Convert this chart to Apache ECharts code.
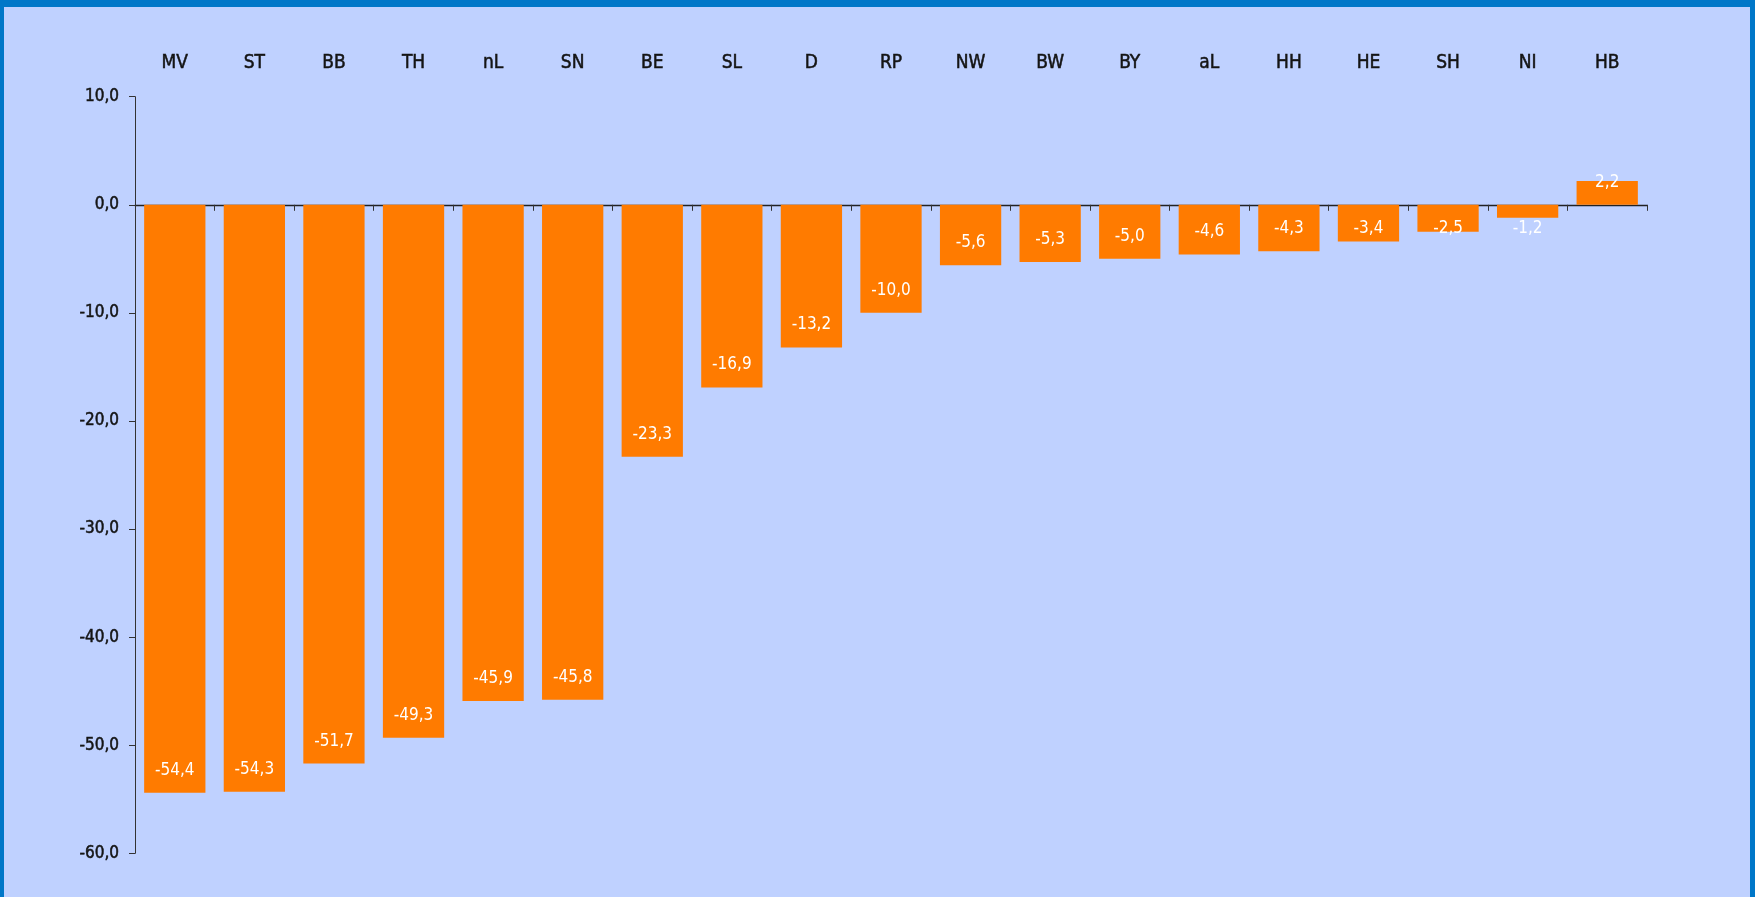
<!DOCTYPE html>
<html>
<head>
<meta charset="utf-8">
<script src="https://cdn.jsdelivr.net/npm/echarts@6/dist/echarts.min.js"></script>
<style>
  html, body { margin: 0; padding: 0; width: 1755px; height: 897px; overflow: hidden; background: #0077C8; }
  #panel { position: absolute; left: 4px; top: 7px; width: 1746px; height: 890px; background: #BFD1FF; }
  #chart { position: absolute; left: 0; top: 0; width: 1755px; height: 897px; }
</style>
</head>
<body>
<div id="panel"></div>
<div id="chart"></div>
<script>
const categories = ['MV','ST','BB','TH','nL','SN','BE','SL','D','RP','NW','BW','BY','aL','HH','HE','SH','NI','HB'];
const values = [-54.4,-54.3,-51.7,-49.3,-45.9,-45.8,-23.3,-16.9,-13.2,-10.0,-5.6,-5.3,-5.0,-4.6,-4.3,-3.4,-2.5,-1.2,2.2];
const yTicks = { min: -60, max: 10, interval: 10 };

const fmt = v => v.toFixed(1).replace('.', ',');
const condensed = '"DejaVu Sans Condensed", "DejaVu Sans", sans-serif';

function labelFor(v) {
  if (v > 0) return { position: 'top', distance: -10 };
  if (v > -4.4) return { position: 'insideTop', distance: 15 };
  return { position: 'insideBottom', distance: 14 };
}

const chart = echarts.init(document.getElementById('chart'), null, { renderer: 'canvas' });
chart.setOption({
  backgroundColor: 'transparent',
  animation: false,
  grid: { left: 135, right: 108, top: 96.7, bottom: 43.7, containLabel: false },
  xAxis: [
    {
      type: 'category', data: categories, position: 'bottom',
      axisLine: { show: true, onZero: true, lineStyle: { color: '#222', width: 1.3 } },
      axisTick: { show: true, inside: false, length: 6, alignWithLabel: false, lineStyle: { color: '#333' } },
      axisLabel: { show: false },
      splitLine: { show: false }
    },
    {
      type: 'category', data: categories, position: 'top',
      axisLine: { show: false, onZero: false },
      axisTick: { show: false },
      axisLabel: { show: true, margin: 24, color: '#141414', fontSize: 19, fontFamily: condensed,
                   textBorderColor: '#141414', textBorderWidth: 0.5 },
      splitLine: { show: false }
    }
  ],
  yAxis: {
    type: 'value', min: yTicks.min, max: yTicks.max, interval: yTicks.interval,
    axisLine: { show: true, lineStyle: { color: '#333', width: 1 } },
    axisTick: { show: true, length: 6, lineStyle: { color: '#333' } },
    axisLabel: { margin: 16, color: '#141414', fontSize: 17, fontFamily: condensed, formatter: fmt,
                 textBorderColor: '#141414', textBorderWidth: 0.5 },
    splitLine: { show: false }
  },
  series: [{
    type: 'bar', xAxisIndex: 0,
    barCategoryGap: '23%',
    itemStyle: { color: '#FF7B00' },
    data: values.map(v => ({
      value: v,
      label: Object.assign({
        show: true, color: '#fff', fontSize: 17, fontFamily: condensed,
        formatter: p => fmt(p.value)
      }, labelFor(v))
    }))
  }]
});
</script>
</body>
</html>
